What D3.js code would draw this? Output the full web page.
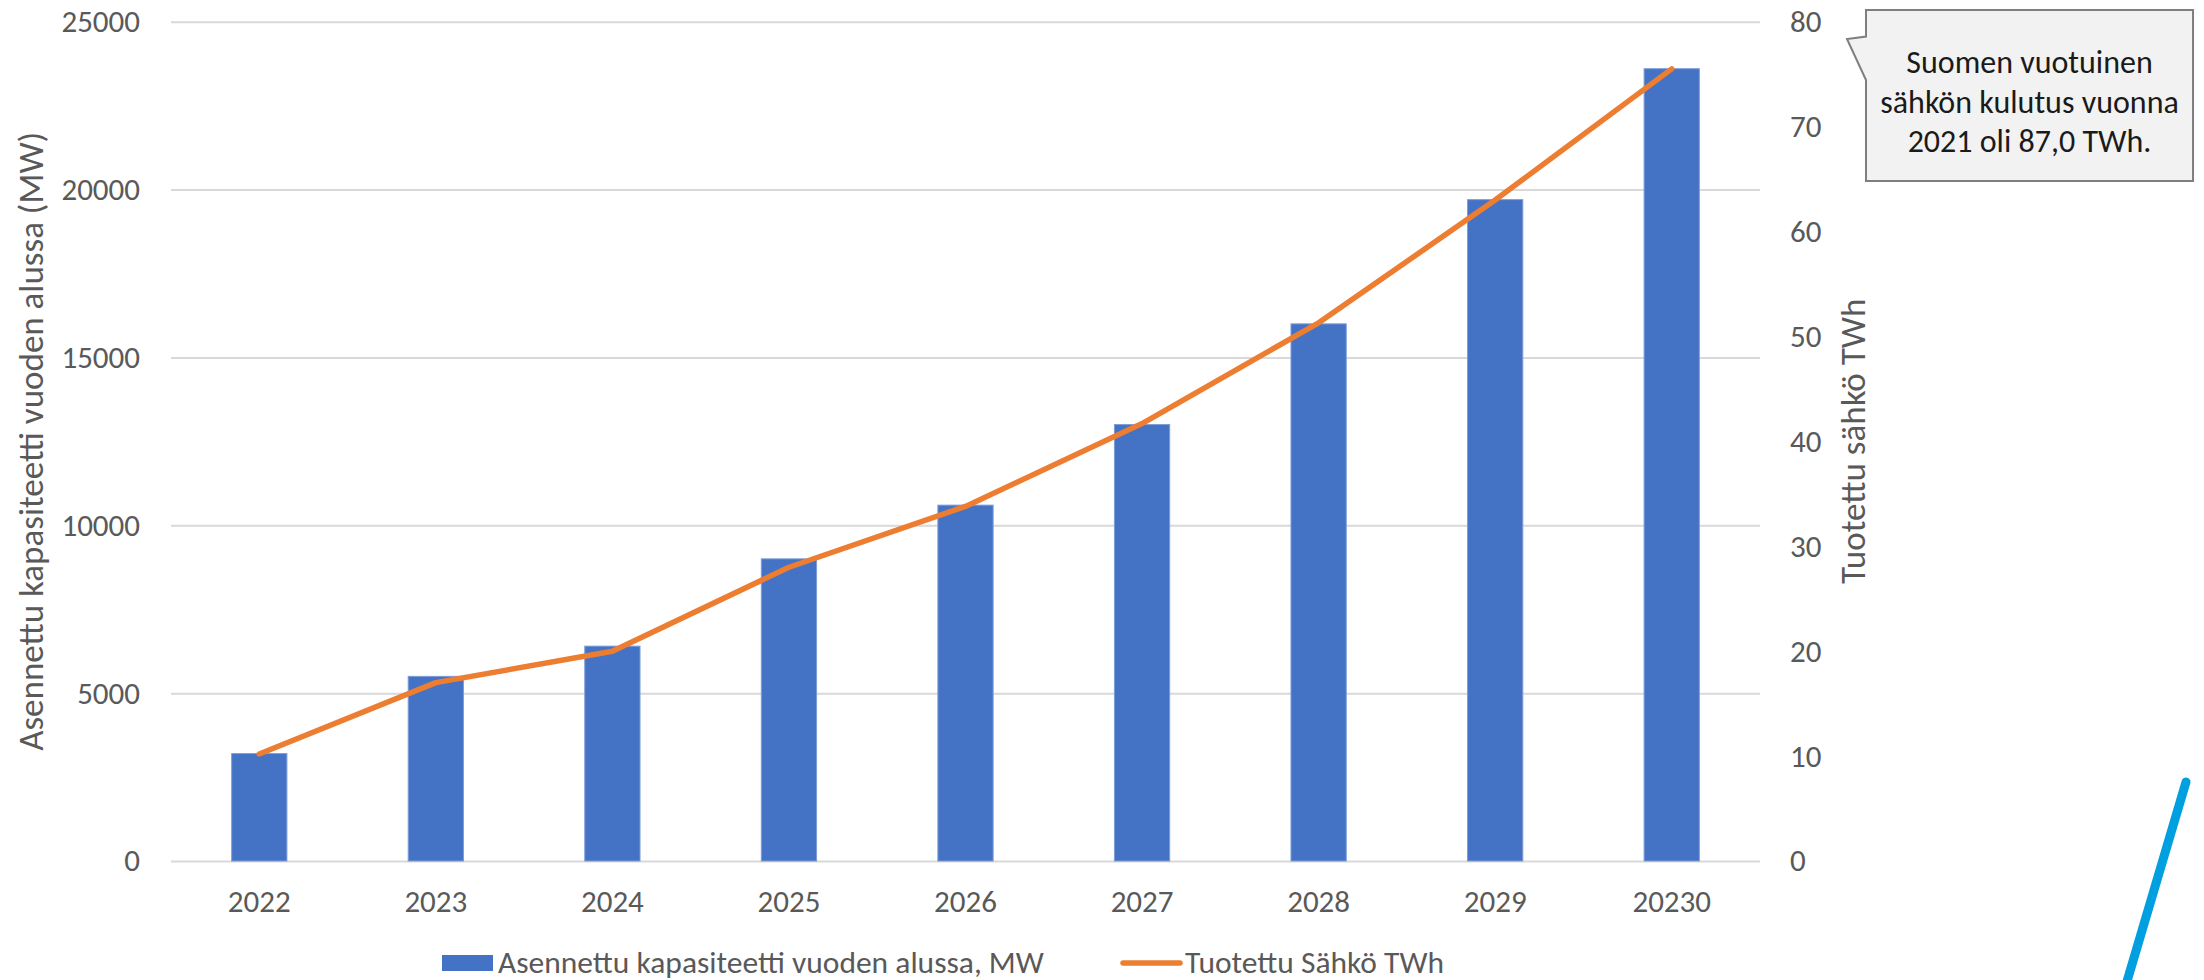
<!DOCTYPE html>
<html lang="fi">
<head>
<meta charset="utf-8">
<title>Aurinkosähkö: kapasiteetti ja tuotanto</title>
<script src="https://cdn.jsdelivr.net/npm/d3@7"></script>
<style>
  html, body { margin: 0; padding: 0; background: #ffffff; }
  svg { display: block; font-family: "Carlito", "Calibri", "Liberation Sans", Arial, sans-serif; }
</style>
</head>
<body>
<svg id="chart" width="2204" height="980"></svg>
<script>
// Vuodet, asennettu kapasiteetti (MW) ja tuotettu sähkö (TWh)
const years = ["2022", "2023", "2024", "2025", "2026", "2027", "2028", "2029", "20230"];
const capacityMW = [3200, 5500, 6400, 9000, 10600, 13000, 16000, 19700, 23600];
const energyTWh = [10.2, 17, 20, 28, 33.8, 41.7, 51.3, 63, 75.5];
const leftTicks = [0, 5000, 10000, 15000, 20000, 25000];
const rightTicks = [0, 10, 20, 30, 40, 50, 60, 70, 80];

const barLabel = "Asennettu kapasiteetti vuoden alussa, MW";
const lineLabel = "Tuotettu Sähkö TWh";
const leftTitle = "Asennettu kapasiteetti vuoden alussa (MW)";
const rightTitle = "Tuotettu sähkö TWh";
const noteLines = ["Suomen vuotuinen", "sähkön kulutus vuonna", "2021 oli 87,0 TWh."];

const textGrey = "#595959";
const barBlue = "#4472C4";
const lineOrange = "#ED7D31";
const tickFont = 31;

const svg = d3.select("#chart");

const plot = { left: 171, right: 1760, top: 21.7, bottom: 861 };

const x = d3.scaleBand()
  .domain(years)
  .range([plot.left, plot.right])
  .paddingInner(0.687)
  .paddingOuter(0.3435);

const yL = d3.scaleLinear().domain([0, 25000]).range([plot.bottom, plot.top]);
const yR = d3.scaleLinear().domain([0, 80]).range([plot.bottom, plot.top]);

function styleAxis(g) {
  g.attr("font-family", null).attr("font-size", tickFont);
  g.select(".domain").remove();
  g.selectAll(".tick text").attr("fill", textGrey);
}

// Vaakasuorat apuviivat ja vasemman akselin luvut
const leftAxis = svg.append("g")
  .attr("transform", `translate(${plot.left},0)`)
  .call(d3.axisLeft(yL).tickValues(leftTicks).tickSize(-(plot.right - plot.left)).tickPadding(31).tickFormat(d3.format("d")))
  .call(styleAxis);
leftAxis.selectAll(".tick line").attr("stroke", "#d9d9d9").attr("stroke-width", 2);

// Oikea akseli
svg.append("g")
  .attr("transform", `translate(${plot.right},0)`)
  .call(d3.axisRight(yR).tickValues(rightTicks).tickSize(0).tickPadding(30))
  .call(styleAxis);

// Vuosiakseli
svg.append("g")
  .attr("transform", `translate(0,${plot.bottom})`)
  .call(d3.axisBottom(x).tickSize(0).tickPadding(29))
  .call(styleAxis);

// Pylväät
svg.append("g").selectAll("rect")
  .data(years.map((yr, i) => ({ yr, v: capacityMW[i] })))
  .join("rect")
  .attr("x", d => x(d.yr))
  .attr("y", d => yL(d.v))
  .attr("width", x.bandwidth())
  .attr("height", d => yL(0) - yL(d.v))
  .attr("fill", barBlue)
  .attr("stroke", "#7d9dd8")
  .attr("stroke-width", 1);

// Tuotantoviiva
const line = d3.line()
  .x(d => x(d.yr) + x.bandwidth() / 2)
  .y(d => yR(d.v));
svg.append("path")
  .datum(years.map((yr, i) => ({ yr, v: energyTWh[i] })))
  .attr("d", line)
  .attr("fill", "none")
  .attr("stroke", lineOrange)
  .attr("stroke-width", 5.5)
  .attr("stroke-linecap", "round")
  .attr("stroke-linejoin", "round");

// Akselien otsikot
svg.append("text")
  .attr("transform", `translate(43,${(plot.top + plot.bottom) / 2}) rotate(-90)`)
  .attr("text-anchor", "middle")
  .attr("fill", textGrey)
  .attr("font-size", 35)
  .text(leftTitle);

svg.append("text")
  .attr("transform", `translate(1865,${(plot.top + plot.bottom) / 2}) rotate(-90)`)
  .attr("text-anchor", "middle")
  .attr("fill", textGrey)
  .attr("font-size", 35)
  .text(rightTitle);

// Selite
const legend = svg.append("g");
legend.append("rect")
  .attr("x", 442).attr("y", 955).attr("width", 51).attr("height", 16)
  .attr("fill", barBlue);
legend.append("text")
  .attr("x", 498).attr("y", 973)
  .attr("fill", textGrey).attr("font-size", 31.5)
  .text(barLabel);
legend.append("line")
  .attr("x1", 1123).attr("x2", 1180).attr("y1", 963).attr("y2", 963)
  .attr("stroke", lineOrange).attr("stroke-width", 5.5).attr("stroke-linecap", "round");
legend.append("text")
  .attr("x", 1185).attr("y", 973)
  .attr("fill", textGrey).attr("font-size", 31.5)
  .text(lineLabel);

// Puhekupla kulutustiedolla
const bx0 = 1866, bx1 = 2193, by0 = 10, by1 = 181;
const bubble = d3.path();
bubble.moveTo(bx0, by0);
bubble.lineTo(bx1, by0);
bubble.lineTo(bx1, by1);
bubble.lineTo(bx0, by1);
bubble.lineTo(bx0, 80);
bubble.lineTo(1847, 39);
bubble.lineTo(bx0, 36.5);
bubble.closePath();
svg.append("path")
  .attr("d", bubble.toString())
  .attr("fill", "#f2f2f2")
  .attr("stroke", "#7f7f7f")
  .attr("stroke-width", 2)
  .attr("stroke-linejoin", "miter");

svg.append("g").selectAll("text")
  .data(noteLines)
  .join("text")
  .attr("x", (bx0 + bx1) / 2)
  .attr("y", (d, i) => 73 + i * 39.5)
  .attr("text-anchor", "middle")
  .attr("fill", "#1a1a1a")
  .attr("font-size", 32)
  .text(d => d);

// Koristeviiva oikeassa alakulmassa
svg.append("line")
  .attr("x1", 2186).attr("y1", 782)
  .attr("x2", 2120).attr("y2", 1005)
  .attr("stroke", "#009FE0")
  .attr("stroke-width", 9)
  .attr("stroke-linecap", "round");
</script>
</body>
</html>
